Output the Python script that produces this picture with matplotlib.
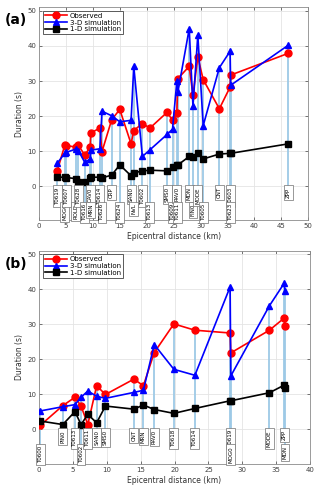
import matplotlib
matplotlib.use('Agg')
import matplotlib.pyplot as plt

# panel (a)
stations_a = ['T0619', 'MOG0', 'T0607', 'ROLD', 'T0628', 'T0616', 'CAV0', 'MRN', 'T0614', 'T0626',
              'CRP', 'T0624', 'SAN0', 'NVL', 'T0602', 'T0613', 'SMS0', 'T0609', 'RAV0', 'T0611',
              'MDN', 'FIN0', 'MODE', 'T0605', 'CNT', 'T0603', 'T0623', 'ZPP']
dist_a = [3.4, 4.8, 5.1, 6.8, 7.3, 8.5, 9.5, 9.6, 11.3, 11.7,
          13.5, 15.0, 17.1, 17.6, 19.2, 20.6, 23.8, 24.8, 25.6, 25.8,
          27.9, 28.6, 29.5, 30.5, 33.5, 35.5, 35.6, 46.3]
obs_a = [4.5, 11.8, 11.6, 11.2, 11.7, 8.9, 11.2, 15.2, 16.6, 9.9,
         19.0, 21.9, 12.1, 15.9, 17.9, 16.6, 21.1, 18.8, 20.9, 30.7,
         34.2, 25.9, 36.9, 30.4, 22.1, 28.3, 31.7, 37.9]
sim3d_a = [6.6, 9.5, 9.7, 10.6, 10.2, 6.8, 7.8, 10.3, 10.7, 21.4,
           20.1, 18.4, 18.8, 34.2, 8.5, 10.4, 14.8, 16.3, 29.9, 26.9,
           44.9, 22.8, 43.1, 17.3, 33.8, 38.5, 28.8, 40.2]
sim1d_a = [2.6, 2.6, 2.5, 2.2, 1.3, 1.2, 2.4, 2.6, 2.6, 2.4,
           3.2, 6.1, 3.0, 3.8, 4.4, 4.6, 4.4, 5.4, 6.1, 6.1,
           8.5, 8.4, 9.5, 7.8, 9.2, 9.4, 9.4, 12.1]
lower_a = ['MOG0', 'ROLD', 'T0616', 'MRN', 'T0626', 'T0624', 'NVL', 'T0613', 'T0609', 'T0611',
           'FIN0', 'T0605', 'T0623']

# panel (b)
stations_b = ['T0600', 'PIN0', 'T0613', 'T0602', 'T0611', 'SAN0', 'SMS0', 'CNT', 'MRN', 'RAV0',
              'T0618', 'T0614', 'T0619', 'MOG0', 'MODE', 'ZPP', 'MDN']
dist_b = [0.2, 3.5, 5.3, 6.2, 7.2, 8.5, 9.8, 14.0, 15.4, 17.0,
          19.9, 23.0, 28.2, 28.3, 34.0, 36.2, 36.3]
obs_b = [1.1, 6.7, 9.1, 6.6, 1.3, 12.4, 9.9, 14.3, 12.4, 21.9,
         30.1, 28.3, 27.5, 21.8, 28.3, 31.8, 29.5]
sim3d_b = [5.2, 6.4, 7.0, 9.1, 10.9, 9.4, 8.8, 10.5, 11.1, 24.2,
           17.1, 15.4, 40.7, 15.2, 35.3, 41.8, 39.4]
sim1d_b = [2.3, 1.3, 5.0, 1.3, 4.2, 1.8, 6.6, 5.7, 6.9, 5.6,
           4.5, 5.9, 8.1, 8.1, 10.4, 12.6, 11.9]
lower_b = ['T0600', 'T0602', 'MOG0', 'MDN']


def draw_panel(ax, names, dist, obs, s3, s1, lower, xmax, ymin, letter):
    up_top, low_top = -0.3, -4.9
    for i, name in enumerate(names):
        top = max(obs[i], s3[i], s1[i])
        y0 = low_top if name in lower else up_top
        ax.vlines(dist[i], y0, top, color='#9dc9e6', lw=1.3, zorder=1)
        ax.text(dist[i], y0, name, rotation=90, ha='center', va='top', fontsize=4,
                zorder=5, bbox=dict(boxstyle='square,pad=0.35', fc='white', ec='#707070', lw=0.5))
    ax.plot(dist, obs, '-o', color='red', mfc='red', ms=5, lw=1.2, zorder=3, label='Observed')
    ax.plot(dist, s3, '-^', color='blue', mfc='blue', ms=5, lw=1.2, zorder=3, label='3-D simulation')
    ax.plot(dist, s1, '-s', color='black', mfc='black', ms=4, lw=1.2, zorder=3, label='1-D simulation')

    ax.set_xlim(0, xmax)
    ax.set_ylim(ymin, 51)
    ax.set_xticks(range(0, xmax + 1, 5))
    ax.set_yticks(range(0, 51, 10))
    ax.grid(True, color='#e4e4e4', lw=0.6)
    ax.set_axisbelow(True)
    ax.tick_params(direction='in', labelsize=5, colors='#404040', length=2, width=0.5,
                   top=True, right=True, pad=2)
    for s in ax.spines.values():
        s.set_color('#8a8a8a')
        s.set_linewidth(0.6)
    ax.set_xlabel('Epicentral distance (km)', fontsize=5.5, color='#303030', labelpad=2)
    ax.set_ylabel('Duration (s)', fontsize=5.5, color='#303030', labelpad=2)
    leg = ax.legend(loc='upper left', fontsize=5, handlelength=3.2, borderpad=0.3,
                    labelspacing=0.1, handletextpad=0.4, fancybox=False, framealpha=1,
                    edgecolor='#404040', borderaxespad=0.5)
    leg.get_frame().set_linewidth(0.6)
    ax.text(-0.127, 0.94, letter, transform=ax.transAxes, fontsize=10, fontweight='bold',
            ha='left', va='center')


fig = plt.figure(figsize=(3.2, 4.9), dpi=100)
ax1 = fig.add_axes([0.122, 0.551, 0.841, 0.434])
ax2 = fig.add_axes([0.122, 0.053, 0.847, 0.435])
draw_panel(ax1, stations_a, dist_a, obs_a, sim3d_a, sim1d_a, lower_a, 50, -9.6, '(a)')
draw_panel(ax2, stations_b, dist_b, obs_b, sim3d_b, sim1d_b, lower_b, 40, -10, '(b)')

fig.savefig('out.png', dpi=100)
